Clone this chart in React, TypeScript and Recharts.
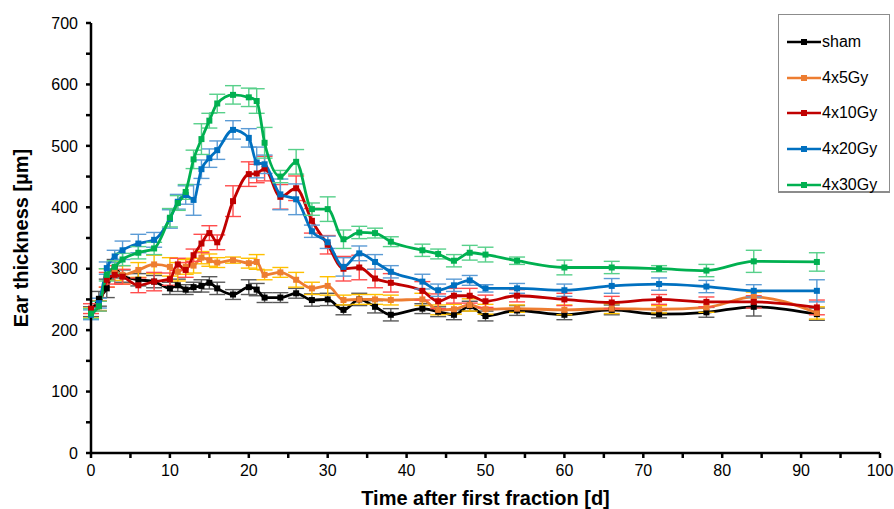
import React from 'react';
import { LineChart, Line, XAxis, YAxis, ErrorBar, Legend } from 'recharts';

const days = [0, 1, 2, 3, 4, 6, 8, 10, 11, 12, 13, 14, 15, 16, 18, 20, 21, 22, 24, 26, 28, 30, 32, 34, 36, 38, 42, 44, 46, 48, 50, 54, 60, 66, 72, 78, 84, 92];

const sham = [230, 251, 268, 300, 288, 282, 279, 268, 273, 266, 270, 272, 277, 268, 258, 270, 266, 253, 253, 260, 249, 250, 233, 250, 238, 225, 235, 230, 225, 239, 223, 232, 225, 233, 226, 229, 238, 226];
const gy5 = [228, 240, 285, 296, 290, 298, 307, 303, 295, 303, 305, 318, 314, 310, 314, 309, 311, 290, 294, 282, 268, 272, 249, 250, 250, 249, 250, 233, 234, 241, 234, 235, 233, 235, 234, 237, 254, 228];
const gy10 = [235, 239, 282, 290, 287, 273, 279, 283, 307, 298, 322, 341, 358, 343, 410, 454, 455, 463, 417, 431, 378, 339, 300, 302, 284, 277, 264, 247, 256, 256, 247, 256, 250, 245, 250, 246, 246, 237];
const gy20 = [225, 244, 301, 320, 330, 341, 347, 381, 409, 420, 412, 462, 480, 493, 526, 513, 473, 470, 421, 413, 361, 343, 303, 325, 311, 295, 279, 265, 273, 281, 268, 268, 265, 272, 275, 271, 264, 264];
const gy30 = [227, 239, 290, 303, 315, 326, 333, 383, 407, 425, 478, 511, 541, 569, 583, 579, 573, 505, 450, 474, 397, 397, 348, 359, 358, 344, 330, 324, 313, 326, 323, 313, 302, 302, 300, 297, 312, 311];

const shamErr = [8, 12, 15, 15, 10, 10, 10, 10, 10, 8, 8, 10, 10, 10, 8, 12, 10, 8, 8, 8, 10, 10, 8, 10, 10, 10, 8, 8, 8, 8, 8, 8, 8, 8, 6, 8, 15, 10];
const gy5Err = [8, 8, 15, 15, 15, 12, 15, 15, 15, 12, 12, 10, 10, 8, 5, 8, 12, 8, 8, 12, 10, 15, 8, 8, 8, 8, 10, 8, 8, 10, 8, 6, 8, 8, 6, 8, 8, 10];
const gy10Err = [8, 8, 12, 15, 12, 12, 15, 10, 10, 12, 10, 15, 12, 12, 25, 20, 15, 20, 20, 20, 20, 15, 20, 20, 15, 15, 15, 12, 12, 12, 10, 10, 10, 10, 8, 8, 10, 12];
const gy20Err = [8, 8, 10, 10, 15, 15, 12, 15, 12, 15, 25, 15, 15, 15, 15, 15, 25, 15, 25, 25, 10, 10, 15, 12, 12, 10, 12, 10, 10, 8, 6, 8, 10, 12, 10, 10, 10, 18];
const gy30Err = [8, 8, 10, 10, 10, 10, 10, 15, 12, 12, 15, 25, 12, 15, 15, 15, 20, 25, 10, 20, 10, 20, 15, 10, 8, 8, 10, 8, 10, 12, 12, 6, 12, 10, 5, 10, 18, 15];

const xTicks = [0, 5, 10, 15, 20, 25, 30, 35, 40, 45, 50, 55, 60, 65, 70, 75, 80, 85, 90, 95, 100];
const yTicks = [0, 50, 100, 150, 200, 250, 300, 350, 400, 450, 500, 550, 600, 650, 700];

const seriesNames = ['sham', '4x5Gy', '4x10Gy', '4x20Gy', '4x30Gy'];
const seriesKeys = ['sham', 'gy5', 'gy10', 'gy20', 'gy30'];
const seriesColors = ['#000000', '#ed7d31', '#c00000', '#0070c0', '#00b050'];
const errColors = ['#595959', '#ffc000', '#ff4d4d', '#5b9bd5', '#57d08a'];

const data = days.map((d, i) => ({
  day: d,
  sham: sham[i], shamErr: shamErr[i],
  gy5: gy5[i], gy5Err: gy5Err[i],
  gy10: gy10[i], gy10Err: gy10Err[i],
  gy20: gy20[i], gy20Err: gy20Err[i],
  gy30: gy30[i], gy30Err: gy30Err[i],
}));

const FONT = '"Liberation Sans", Arial, sans-serif';

const makeDot = (key: string, color: string) => (props: any) => {
  const { cx, cy, index } = props;
  if (cx == null || cy == null) return <g key={`${key}-${index}`} />;
  return <rect key={`${key}-${index}`} x={cx - 3} y={cy - 3} width={6} height={6} fill={color} />;
};

const renderLegend = () => (
  <div
    style={{
      width: 112,
      height: 179,
      boxSizing: 'border-box',
      border: '1px solid #8c8c8c',
      borderBottom: '2px solid #8c8c8c',
      background: '#fff',
      fontFamily: FONT,
      fontSize: 16,
      paddingTop: 9,
    }}
  >
    {seriesNames.map((n, i) => (
      <div key={n} style={{ display: 'flex', alignItems: 'center', height: 35.7, marginLeft: 8 }}>
        <svg width={34} height={10} style={{ display: 'block' }}>
          <line x1={0} y1={5} x2={34} y2={5} stroke={seriesColors[i]} strokeWidth={2.5} />
          <rect x={14} y={2} width={6} height={6} fill={seriesColors[i]} />
        </svg>
        <span style={{ marginLeft: 1, color: '#000' }}>{n}</span>
      </div>
    ))}
  </div>
);

export default function App() {
  return (
    <div style={{ position: 'absolute', left: 0, top: 0, width: 894, height: 509, background: '#fff' }}>
      <LineChart width={894} height={509} data={data} margin={{ top: 23, right: 14, left: 0, bottom: 0 }}>
        <XAxis
          type="number"
          dataKey="day"
          domain={[0, 100]}
          ticks={xTicks}
          interval={0}
          tickFormatter={(v: number) => (v % 10 === 0 ? String(v) : '')}
          height={56}
          stroke="#000"
          strokeWidth={2.5}
          tickSize={5}
          tickMargin={7}
          tick={{ fill: '#000', fontSize: 16, fontFamily: FONT }}
          label={{ value: 'Time after first fraction [d]', position: 'center', dy: 17, style: { fontFamily: FONT, fontSize: 20, fontWeight: 'bold', fill: '#000' } }}
        />
        <YAxis
          type="number"
          domain={[0, 700]}
          ticks={yTicks}
          interval={0}
          tickFormatter={(v: number) => (v % 100 === 0 ? String(v) : '')}
          width={91}
          stroke="#000"
          strokeWidth={2.5}
          tickSize={5}
          tickMargin={8}
          tick={{ fill: '#000', fontSize: 16, fontFamily: FONT }}
          label={{ value: 'Ear thickness [µm]', angle: -90, position: 'center', dx: -25, style: { fontFamily: FONT, fontSize: 20, fontWeight: 'bold', fill: '#000', textAnchor: 'middle' } }}
        />
        <Legend
          content={renderLegend}
          layout="vertical"
          align="center"
          verticalAlign="middle"
          wrapperStyle={{ position: 'absolute', left: 778, top: 14, width: 112, height: 179 }}
        />
        {seriesKeys.map((k, i) => (
          <Line
            key={k}
            type="monotone"
            dataKey={k}
            name={seriesNames[i]}
            stroke={seriesColors[i]}
            strokeWidth={2.8}
            dot={makeDot(k, seriesColors[i])}
            activeDot={false}
            isAnimationActive={false}
          >
            <ErrorBar dataKey={`${k}Err`} direction="y" width={8} stroke={errColors[i]} strokeWidth={1.4} />
          </Line>
        ))}
      </LineChart>
    </div>
  );
}
